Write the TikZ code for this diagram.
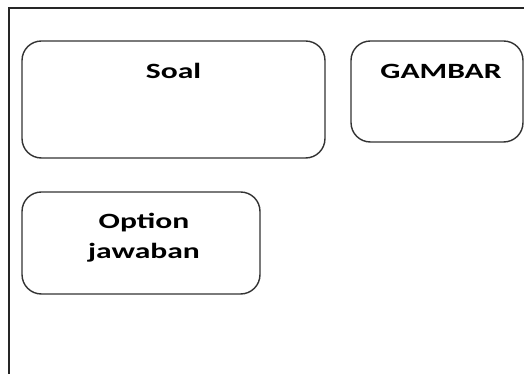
\documentclass[tikz,border=0pt]{standalone}
\usepackage{fontspec}
\setmainfont{Carlito}
\newfontfamily\lebar[FakeStretch=1.45]{Carlito}
\usetikzlibrary{positioning}
\tikzset{
  kotak/.style={draw=black!80, line width=0.8pt, rounded corners=11pt, inner sep=0pt},
  tulisan/.style={font=\lebar\bfseries\fontsize{12.4}{17}\selectfont, align=center, inner sep=0pt, text=black}
}

\begin{document}
\begin{tikzpicture}[x=0.02cm, y=-0.02cm]
		%%%%% START %%%%%
		
		\clip (0,0) rectangle (524,374);
		\fill[white] (0,0) rectangle (524,374);
		
		% bingkai layar
		\draw[line width=1.1pt, color=black!85] (9,400) -- (9,8) -- (560,8);
		
		% kotak soal
		\node[kotak, minimum width=6.06cm, minimum height=2.34cm] (soal) at (173.5,99.5) {};
		\node[tulisan, below=0.46cm of soal.north] (soaltext) {Soal};
		
		% kotak gambar
		\node[kotak, minimum width=3.44cm, minimum height=2.02cm] (gambar) at (437,91.5) {};
		\node[tulisan, below=0.48cm of gambar.north, xshift=0.08cm] (gambartext) {GAMBAR};
		
		% kotak option jawaban
		\node[kotak, minimum width=4.76cm, minimum height=2.04cm] (option) at (141,243) {};
		\node[tulisan, below=0.44cm of option.north, xshift=0.06cm] (optiontext) {Option\\jawaban};
		
		%%%%% END %%%%%
\end{tikzpicture}
\end{document}
